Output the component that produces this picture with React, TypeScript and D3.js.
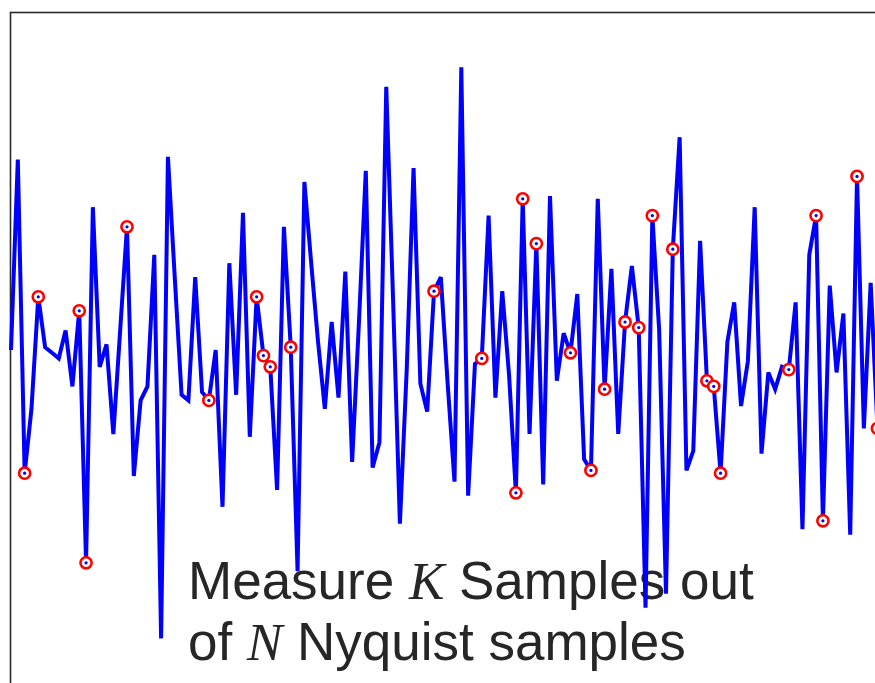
import React, { useEffect, useRef } from 'react';
import * as d3 from 'd3';

const width = 875;
const height = 683;

// Nyquist-rate signal, one value per sample (128 samples)
const signal: number[] = [
  0.00, 0.68, -0.44, -0.21, 0.19, 0.01, -0.01, -0.03, 0.07, -0.13,
  0.14, -0.76, 0.51, -0.06, 0.02, -0.30, 0.07, 0.44, -0.45, -0.18,
  -0.13, 0.34, -1.03, 0.69, 0.26, -0.16, -0.18, 0.26, -0.15, -0.18,
  0.00, -0.56, 0.31, -0.16, 0.49, -0.31, 0.19, -0.02, -0.06, -0.50,
  0.44, 0.01, -0.79, 0.60, 0.31, 0.03, -0.21, 0.10, -0.17, 0.28,
  -0.40, 0.10, 0.64, -0.42, -0.33, 0.94, 0.18, -0.62, -0.07, 0.65,
  -0.12, -0.22, 0.21, 0.26, -0.12, -0.47, 1.01, -0.52, -0.05, -0.03,
  0.48, -0.17, 0.21, -0.09, -0.51, 0.54, -0.30, 0.38, -0.48, 0.55,
  -0.11, 0.06, -0.01, 0.20, -0.39, -0.43, 0.54, -0.14, 0.29, -0.30,
  0.10, 0.30, 0.08, -0.92, 0.48, 0.07, -0.87, 0.36, 0.76, -0.43,
  -0.36, 0.39, -0.11, -0.13, -0.44, 0.03, 0.17, -0.20, -0.04, 0.51,
  -0.37, -0.08, -0.14, -0.06, -0.07, 0.17, -0.64, 0.34, 0.48, -0.61,
  0.23, -0.08, 0.13, -0.66, 0.62, -0.28, 0.24, -0.28
];

// the K measured samples (indices into signal)
const measured: number[] = [
  2, 4, 10, 11, 17, 29, 36, 37, 38, 41, 62, 69, 74, 75, 77,
  82, 85, 87, 90, 92, 94, 97, 102, 103, 104, 114, 118, 119, 124, 127
];

const lines = [
  ['Measure ', 'K', ' Samples out'],
  ['of ', 'N', ' Nyquist samples']
];

export default function App() {
  const ref = useRef<SVGSVGElement>(null);

  useEffect(() => {
    const svg = d3.select(ref.current);
    svg.selectAll('*').remove();

    const x = d3.scaleLinear().domain([0, signal.length - 1]).range([11, 877.5]);
    const y = d3.scaleLinear().domain([-1, 1]).range([630, 70]);

    svg.append('rect')
      .attr('width', width).attr('height', height).attr('fill', '#fff');

    // axes box, right and bottom edges fall outside the picture
    svg.append('rect')
      .attr('x', 10.5).attr('y', 12.5)
      .attr('width', 1000).attr('height', 1000)
      .attr('fill', 'none').attr('stroke', '#2a2a2a').attr('stroke-width', 1.6);

    const text = svg.append('text')
      .attr('font-family', '"Liberation Sans", Arial, sans-serif')
      .attr('font-size', 53)
      .attr('fill', '#262626');
    lines.forEach((parts, li) => {
      parts.forEach((p, pi) => {
        const t = text.append('tspan').text(p);
        if (pi === 0) t.attr('x', 188).attr('y', 599 + li * 61);
        if (pi === 1) t.attr('font-family', '"Liberation Serif", "Times New Roman", serif').attr('font-style', 'italic');
      });
    });
    text.attr('xml:space', 'preserve').style('white-space', 'pre');

    const line = d3.line<number>().x((d, i) => x(i)).y(d => y(d));
    svg.append('path')
      .datum(signal)
      .attr('d', line)
      .attr('fill', 'none')
      .attr('stroke', '#0000ff')
      .attr('stroke-width', 4)
      .attr('stroke-linejoin', 'miter')
      .attr('stroke-miterlimit', 3);

    const marks = svg.append('g').selectAll('g').data(measured).enter().append('g')
      .attr('transform', i => `translate(${x(i)},${y(signal[i])})`);
    marks.append('circle')
      .attr('r', 5.6)
      .attr('fill', '#fff')
      .attr('stroke', '#ff0000')
      .attr('stroke-width', 2.6);
    marks.append('circle')
      .attr('r', 1.6)
      .attr('fill', '#0000ff');
  }, []);

  return (
    <svg ref={ref} width={width} height={height}
      style={{ position: 'absolute', left: 0, top: 0, display: 'block' }} />
  );
}
